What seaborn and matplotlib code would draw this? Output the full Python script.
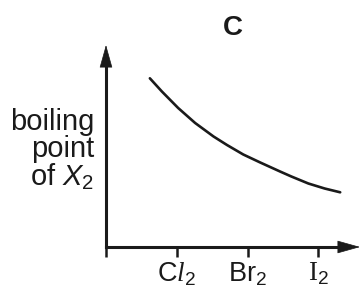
import matplotlib
matplotlib.use("Agg")
import matplotlib.pyplot as plt
import seaborn as sns
import pandas as pd

# --- data (arbitrary units) ---
curve_x = [0.62, 0.79, 1.02, 1.26, 1.52, 1.71, 1.94, 2.18, 2.46, 2.62, 2.86, 3.09, 3.31]
curve_y = [168.7, 155.5, 139.0, 124.0, 110.5, 102.0, 92.5, 84.5, 75.5, 70.5, 63.5, 58.5, 54.7]
tick_pos = [0, 1, 2, 3]
tick_labels = ["", r"C$\mathcal{l}_2$", r"Br$_2$", r"$\mathsf{I}_2$"]
title_text = "C"
ylabel_text = "boiling\npoint\nof $X_2$"

sns.set_style("white")
plt.rcParams["font.family"] = ["Liberation Sans", "DejaVu Sans"]
plt.rcParams["mathtext.fontset"] = "custom"
plt.rcParams["mathtext.rm"] = "Liberation Sans"
plt.rcParams["mathtext.it"] = "Liberation Sans:italic"
plt.rcParams["mathtext.cal"] = "Liberation Serif:italic"
plt.rcParams["mathtext.sf"] = "Liberation Serif"

df = pd.DataFrame({"x": curve_x, "y": curve_y})

fig = plt.figure(figsize=(3.63, 2.93), dpi=100)
ax = fig.add_axes([106 / 363, (293 - 247) / 293, (360 - 106) / 363, (247 - 45) / 293])

sns.lineplot(data=df, x="x", y="y", ax=ax, color="#1a1a1a", linewidth=1.9, sort=False)
ax.lines[0].set_solid_joinstyle("round")

ax.set_xlim(0, 3.59)
ax.set_ylim(0, 202)
for s in ["top", "right"]:
    ax.spines[s].set_visible(False)
for s in ["left", "bottom"]:
    ax.spines[s].set_linewidth(2.2)
    ax.spines[s].set_color("#1a1a1a")
ax.spines["bottom"].set_bounds(0, 3.4)
ax.spines["left"].set_bounds(0, 190)

ax.set_xticks(tick_pos)
ax.set_xticklabels(tick_labels, fontsize=19.5)
ax.set_yticks([])
ax.tick_params(axis="x", direction="out", length=7, width=1.8, color="#1a1a1a",
               pad=3, labelcolor="#1a1a1a", bottom=True)
ax.set_xlabel("")
ax.set_ylabel("")

# arrowheads
for xy, xyt in [((1, 0), (0.9, 0)), ((0, 1), (0, 0.9))]:
    ax.annotate("", xy=xy, xycoords="axes fraction", xytext=xyt,
                textcoords="axes fraction",
                arrowprops=dict(arrowstyle="-|>,head_length=1.5,head_width=0.42",
                                mutation_scale=10, fc="#1a1a1a", ec="#1a1a1a",
                                lw=0.5, shrinkA=0, shrinkB=0))

fig.text(233 / 363, 1 - 28 / 293, title_text, ha="center", va="center",
         fontsize=20, fontweight="bold", color="#1a1a1a")
fig.text(94 / 363, 1 - 150 / 293, ylabel_text, ha="right", va="center",
         multialignment="right", fontsize=21, linespacing=0.92, color="#1a1a1a")

fig.savefig("out.png", dpi=100)
